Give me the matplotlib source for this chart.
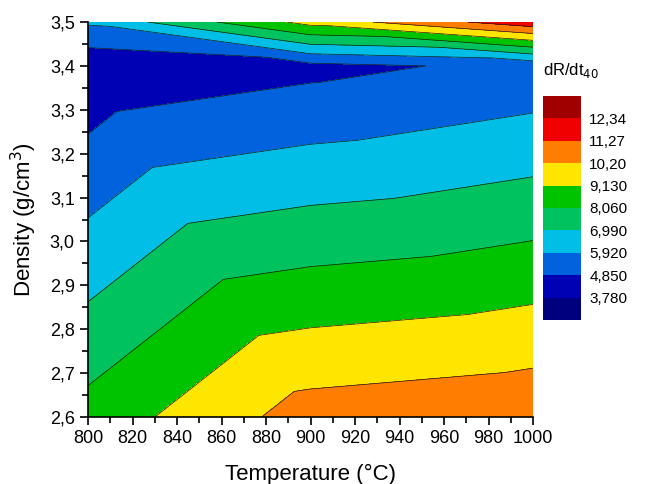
import matplotlib
matplotlib.use("Agg")
from matplotlib import pyplot as plt
import matplotlib.tri as mtri
from matplotlib.colors import ListedColormap, BoundaryNorm
from matplotlib.ticker import MultipleLocator, FuncFormatter
import numpy as np

plt.rcParams['font.family'] = ['Liberation Sans', 'DejaVu Sans']

# measured grid (temperature x density) and dR/dt40 values
temperature = [800, 900, 1000]
density = [2.6, 3.4, 3.5]
rate = [[8.46, 10.69, 11.02],
        [3.98, 4.55, 5.13],
        [6.07, 9.50, 12.00]]

levels = [2.71, 3.78, 4.85, 5.92, 6.99, 8.06, 9.13, 10.20, 11.27, 12.34, 13.41]
level_labels = ["3,780", "4,850", "5,920", "6,990", "8,060", "9,130", "10,20", "11,27", "12,34"]
colors = ["#00007E", "#0000B4", "#0062DC", "#00BEE6", "#00C35F",
          "#00C300", "#FFE600", "#FF7D00", "#F00000", "#A00000"]

# triangulation like Origin (diagonals from top-left to bottom-right)
tri_idx = [[0, 1, 3], [1, 4, 3], [1, 2, 4], [2, 5, 4],
           [3, 4, 6], [4, 7, 6], [4, 5, 7], [5, 8, 7]]

X, Y = np.meshgrid(temperature, density)
Z = np.array(rate)
tri = mtri.Triangulation(X.ravel(), Y.ravel(), tri_idx)

cmap = ListedColormap(colors)
norm = BoundaryNorm(levels, cmap.N)

fig = plt.figure(figsize=(6.52, 4.84), dpi=100)
ax = fig.add_axes([0.135, 0.1384, 0.6825, 0.8161])
cs = ax.tricontourf(tri, Z.ravel(), levels=levels, cmap=cmap, norm=norm)
ax.tricontour(tri, Z.ravel(), levels=levels[1:-1], colors="#1a1a1a", linewidths=0.5)

ax.set_xlim(800, 1000)
ax.set_ylim(2.6, 3.5)
ax.xaxis.set_major_locator(MultipleLocator(20))
ax.xaxis.set_minor_locator(MultipleLocator(10))
ax.yaxis.set_major_locator(MultipleLocator(0.1))
ax.yaxis.set_minor_locator(MultipleLocator(0.05))
ax.yaxis.set_major_formatter(FuncFormatter(lambda v, p: ("%.1f" % v).replace(".", ",")))
ax.tick_params(which="major", direction="out", length=6, width=1.2, labelsize=13)
ax.tick_params(which="minor", direction="out", length=4, width=1.2)
ax.spines["top"].set_visible(False)
ax.spines["right"].set_visible(False)
ax.spines["left"].set_linewidth(1.2)
ax.spines["bottom"].set_linewidth(1.2)
ax.set_xlabel("Temperature (°C)", fontsize=16, labelpad=12)
ax.set_ylabel("Density (g/cm$^3$)", fontsize=16, labelpad=8)

cax = fig.add_axes([0.8328, 0.339, 0.0583, 0.4628])
cb = fig.colorbar(cs, cax=cax, ticks=levels[1:-1])
cb.outline.set_visible(False)
cax.minorticks_off()
cax.set_yticklabels(level_labels)
cax.tick_params(length=0, labelsize=11, pad=6)
fig.text(0.8328, 0.835, "dR/dt$_{40}$", fontsize=12, ha="left", va="bottom")

fig.savefig("out.png", dpi=100)
